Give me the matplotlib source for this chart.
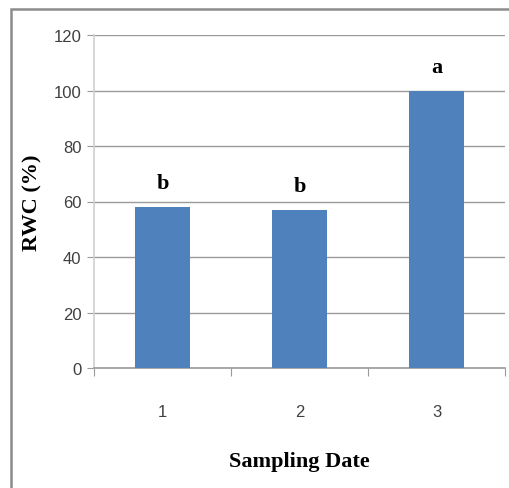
import matplotlib
matplotlib.use("Agg")
import matplotlib.pyplot as plt
from matplotlib.patches import Rectangle

categories = ["1", "2", "3"]
values = [58, 57, 100]
letters = ["b", "b", "a"]
yticks = [0, 20, 40, 60, 80, 100, 120]

W, H = 509, 489
fig = plt.figure(figsize=(W / 100, H / 100), dpi=100)

sans = "Liberation Sans"
serif = "Liberation Serif"

# figure border
fig.patches.append(Rectangle((11 / W, -0.1), 1.2, (H - 10) / H + 0.1, transform=fig.transFigure,
                             fill=False, edgecolor="#8c8c8c", linewidth=1.8))

ax = fig.add_axes([94 / W, (H - 369) / H, 411 / W, 333 / H])
x = list(range(len(categories)))
ax.bar(x, values, width=0.4, color="#4F81BD", zorder=3)
ax.set_xlim(-0.5, 2.5)
ax.set_ylim(0, 120)
ax.set_yticks(yticks)
ax.set_yticklabels([str(v) for v in yticks], fontfamily=sans, fontsize=12, color="#404040")
ax.yaxis.grid(True, color="#9a9a9a", linewidth=1.0, zorder=0)
ax.tick_params(axis="y", length=5, color="#9a9a9a", pad=4)

ax.set_xticks([-0.5, 0.5, 1.5, 2.5], minor=False)
ax.set_xticklabels([])
ax.tick_params(axis="x", which="major", length=6, color="#9a9a9a")
ax.set_xticks(x, minor=True)
ax.set_xticklabels(categories, minor=True, fontfamily=sans, fontsize=12, color="#404040")
ax.tick_params(axis="x", which="minor", length=0, pad=26)

for s in ["top", "right"]:
    ax.spines[s].set_visible(False)
ax.spines["left"].set_color("#d0d0d0")
ax.spines["left"].set_linewidth(1.2)
ax.spines["bottom"].set_color("#9a9a9a")
ax.spines["bottom"].set_linewidth(1.2)

for xi, v, l in zip(x, values, letters):
    ax.text(xi, v + 5, l, ha="center", va="bottom", fontfamily=serif, fontweight="bold", fontsize=16)

ax.set_xlabel("Sampling Date", fontfamily=serif, fontweight="bold", fontsize=16)
ax.xaxis.set_label_coords(0.5, -83 / 333, transform=ax.transAxes)
ax.set_ylabel("RWC (%)", fontfamily=serif, fontweight="bold", fontsize=16)
ax.yaxis.set_label_coords(-52 / 411, 0.5, transform=ax.transAxes)

fig.savefig("out.png", dpi=100)
